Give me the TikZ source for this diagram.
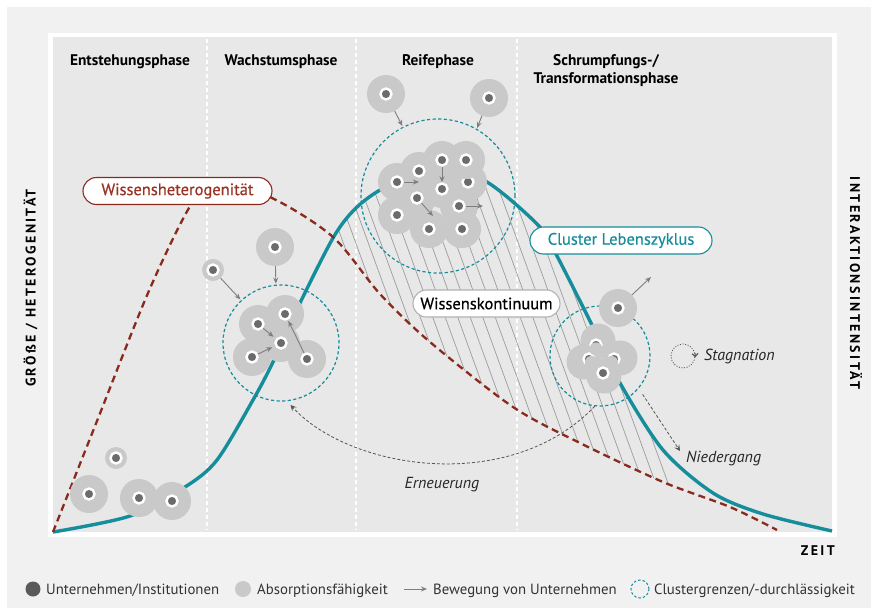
\documentclass[tikz,border=0pt]{standalone}
\usepackage{fontspec}
\setmainfont{PT Sans}
\newfontfamily\spacedfont{PT Sans}[LetterSpace=17]
\newfontfamily\mediumfont{PT Sans}[FakeBold=0.6]
\usetikzlibrary{arrows.meta}

\definecolor{outerbg}{HTML}{F1F1F1}
\definecolor{plotbg}{HTML}{E8E8E8}
\definecolor{lifeteal}{HTML}{168D9B}
\definecolor{hetred}{HTML}{8A2A1D}
\definecolor{hettext}{HTML}{9A3324}
\definecolor{absorb}{HTML}{C9C9C9}
\definecolor{firm}{HTML}{6B6B6B}
\definecolor{legdark}{HTML}{5A5A5A}
\definecolor{movegray}{HTML}{7E7E7E}
\definecolor{trendgray}{HTML}{555555}
\definecolor{hatchgray}{HTML}{9C9C9C}
\definecolor{legtext}{HTML}{333333}

% life-cycle curve and knowledge-heterogeneity curve (pixel-style coordinates, y downwards)
\newcommand\tealpath{plot[smooth] coordinates {(53,532) (130,516) (185,487) (217,460) (253,400) (273,362) (300,303) (333,238) (354,210) (380,190) (433,163) (487,182) (540,227) (557,256) (593,327) (620,383) (663,450) (713,493) (763,514) (832,531)}}
\newcommand\redpath{plot[smooth] coordinates {(53,532) (97,421) (148,293) (189,208) (215,181) (272,198) (333,237) (380,294) (430,342) (513,407) (580,443) (663,482) (730,507) (777,530)}}

\begin{document}
\begin{tikzpicture}[x=1pt, y=-1pt,
  bubble/.style={circle, fill=absorb, inner sep=0pt, minimum size=38pt},
  smallbubble/.style={bubble, minimum size=22pt},
  shrinkbubble/.style={bubble, minimum size=35pt},
  firmdot/.style={circle, fill=firm, draw=white, line width=2.4pt, inner sep=0pt, minimum size=11pt},
  firmmove/.style={draw=movegray, line width=0.9pt, -{Stealth[length=6pt,width=5pt]}},
  clusterring/.style={circle, draw=lifeteal, line width=1.2pt, dash pattern=on 3.2pt off 2.4pt, inner sep=0pt},
  phaseline/.style={white, line width=1.2pt, dash pattern=on 4pt off 3pt},
  hatch/.style={hatchgray, line width=0.7pt},
  tag/.style={rounded corners=13.5pt, fill=white, line width=1.1pt, minimum height=27pt, inner xsep=6pt, font=\mediumfont\fontsize{16.5}{18}\selectfont},
  phasetitle/.style={font=\bfseries\fontsize{15.4}{17.6}\selectfont, anchor=base, align=center, inner sep=0pt},
  axislabel/.style={font=\spacedfont\bfseries\fontsize{14}{16}\selectfont, anchor=base, inner sep=0pt},
  note/.style={font=\itshape\fontsize{16}{18}\selectfont, text=black!85, anchor=base west, inner sep=0pt},
  legendtext/.style={font=\fontsize{14.8}{17}\selectfont, text=legtext, anchor=base west, inner sep=0pt},
  trend/.style={draw=trendgray, line width=0.8pt, dash pattern=on 3pt off 2pt, -{Stealth[length=6pt,width=6pt,inset=2.5pt]}}
]
\useasboundingbox (0,0) rectangle (871,608);
\fill[white] (0,0) rectangle (871,608);
\fill[outerbg] (7,7) rectangle (871,608);
\fill[white] (48,33) rectangle (837,537);
\fill[plotbg] (53,37) rectangle (832,532);

% phase boundaries
\foreach \x in {207,356,517} \draw[phaseline] (\x,39) -- (\x,530);

% hatched knowledge continuum between the two curves
\begin{scope}
  \clip \tealpath -- (832,600) -- (53,600) -- cycle;
  \clip \redpath -- (900,530) -- (900,0) -- (0,0) -- (0,532) -- cycle;
  \foreach \k in {0,...,21} \draw[hatch] ({492.5-12.5*\k},0) -- ++(218,600);
\end{scope}

% curves
\draw[lifeteal, line width=3.4pt] \tealpath;
\draw[hetred, line width=2.3pt, dash pattern=on 7pt off 4.5pt] \redpath;

% curve labels
\node[tag, draw=hetred, text=hettext, minimum width=189pt] (lblhet) at (177.5,191) {Wissensheterogenität};
\node[tag, draw=lifeteal, text=lifeteal, minimum width=182pt] (lblcyc) at (621,240.5) {Cluster Lebenszyklus};
\node[tag, draw=black!30, text=black, minimum width=147pt] (lblkont) at (486.5,303.5) {Wissenskontinuum};

% cluster boundaries
\node[clusterring, minimum size=116pt] (wring) at (281,343) {};
\node[clusterring, minimum size=154pt] (rring) at (438,196) {};
\node[clusterring, minimum size=100pt] (sring) at (600,356) {};

% emergence phase
\node[smallbubble] (e0) at (116,458) {};
\node[firmdot] (e0d) at (e0) {};
\node[bubble] (e1) at (89,494) {};
\node[bubble] (e2) at (139,498) {};
\node[bubble] (e3) at (172,501) {};
\node[firmdot] (e1d) at (e1) {};
\node[firmdot] (e2d) at (e2) {};
\node[firmdot] (e3d) at (e3) {};

% growth phase
\node[smallbubble] (ws) at (213,270) {};
\node[firmdot] (wsd) at (ws) {};
\node[bubble] (wb) at (275,247) {};
\node[firmdot] (wbd) at (wb) {};
\node[bubble] (w1) at (258,324) {};
\node[bubble] (w2) at (285,314) {};
\node[bubble] (w3) at (281,343) {};
\node[bubble] (w4) at (252,357) {};
\node[bubble] (w5) at (307,359) {};
\foreach \n in {w1,w2,w3,w4,w5} \node[firmdot] (\n d) at (\n) {};
\draw[firmmove, shorten >=1pt] (ws) -- (wring);
\draw[firmmove, shorten >=1pt] (wb) -- (wring.95);
\draw[firmmove, shorten >=3pt] (w1d) -- (w3d);
\draw[firmmove, shorten >=3pt] (w4d) -- (w3d);
\draw[firmmove, shorten >=1pt] (w5d) -- (w2d);

% maturity phase
\node[bubble] (ro1) at (386,94) {};
\node[firmdot] (ro1d) at (ro1) {};
\node[bubble] (ro2) at (489,98) {};
\node[firmdot] (ro2d) at (ro2) {};
\node[bubble] (ra) at (397,182) {};
\node[bubble] (rb) at (419,171) {};
\node[bubble] (rc) at (442,160) {};
\node[bubble] (re) at (442,189) {};
\node[bubble] (rf) at (468,182) {};
\node[bubble] (rg) at (417,198) {};
\node[bubble] (rh) at (459,206) {};
\node[bubble] (ri) at (397,215) {};
\node[bubble] (rj) at (429,229) {};
\node[bubble] (rk) at (462,229) {};
\node[firmdot] (rfd) at (rf) {};
\node[bubble] (rd) at (466,160) {};
\foreach \n in {ra,rb,rc,rd,re,rg,rh,ri,rj,rk} \node[firmdot] (\n d) at (\n) {};
\coordinate (ramove) at (419,182);
\coordinate (rgmove) at (433,216);
\coordinate (rhmove) at (483,206);
\draw[firmmove, shorten >=1pt] (ro1) -- (rring.117);
\draw[firmmove, shorten >=1pt] (ro2) -- (rring.60);
\draw[firmmove] (rad) -- (ramove);
\draw[firmmove] (rcd) -- (red);
\draw[firmmove] (rgd) -- (rgmove);
\draw[firmmove] (rhd) -- (rhmove);

% shrinking / transformation phase
\node[shrinkbubble] (sa) at (598,341) {};
\node[shrinkbubble] (sb) at (584,362) {};
\node[shrinkbubble] (sc) at (620,358) {};
\node[shrinkbubble] (sd) at (604,376) {};
\node[firmdot] (sad) at (596,345) {};
\node[firmdot] (sbd) at (589,359) {};
\node[firmdot] (scd) at (614,359) {};
\fill[absorb] (596,349) circle[radius=6.6];
\fill[absorb] (591.5,362.5) circle[radius=6.6];
\fill[absorb] (611.5,362.5) circle[radius=6.6];
\node[firmdot] (sdd) at (603,373) {};
\node[bubble] (so) at (618,308) {};
\node[firmdot] (sod) at (so) {};
\coordinate (somove) at (651,277);
\draw[firmmove] (so) -- (somove);

% stagnation, decline, renewal
\node[circle, draw=trendgray, line width=0.8pt, dash pattern=on 1pt off 1.6pt, minimum size=24pt, inner sep=0pt] (stag) at (683,356) {};
\draw[trendgray, line width=1.1pt, -{Straight Barb[length=3pt,width=6pt]}] (stag.14) -- (stag.-6);
\coordinate (nied) at (680,451);
\draw[trend, shorten <=7pt] (sring.-40) -- (nied);
\draw[trend, shorten >=5pt] (sring.-96) .. controls (510,495) and (350,470) .. (wring.-84);
\node[note] (tstag) at (704,360) {Stagnation};
\node[note] (tnied) at (686,462.7) {Niedergang};
\node[note, anchor=base] (terneu) at (442,488.3) {Erneuerung};

% phase titles
\node[phasetitle] (ph1) at (130,65.7) {Entstehungsphase};
\node[phasetitle] (ph2) at (281,65.7) {Wachstumsphase};
\node[phasetitle] (ph3) at (438,65.7) {Reifephase};
\node[phasetitle, anchor=north] (ph4) at (606,54.5) {Schrumpfungs-/\\Transformationsphase};

% axes
\node[axislabel, rotate=90] (ylab) at (35.7,288) {GRÖßE / HETEROGENITÄT};
\node[axislabel, rotate=-90] (y2lab) at (850,283) {INTERAKTIONSINTENSITÄT};
\node[axislabel, anchor=base east] (xlab) at (835,555.7) {ZEIT};

% legend
\node[circle, fill=legdark, minimum size=15pt, inner sep=0pt] (lgfirm) at (33,589) {};
\node[legendtext] (ltfirm) at (46,594) {Unternehmen/Institutionen};
\node[circle, fill=absorb, minimum size=16pt, inner sep=0pt] (lgabs) at (243,589) {};
\node[legendtext] (ltabs) at (257,594) {Absorptionsfähigkeit};
\coordinate (lgm1) at (404,589);
\coordinate (lgm2) at (427,589);
\draw[firmmove] (lgm1) -- (lgm2);
\node[legendtext] (ltmove) at (433,594) {Bewegung von Unternehmen};
\node[circle, draw=lifeteal, line width=1pt, dash pattern=on 2.5pt off 2pt, minimum size=18pt, inner sep=0pt] (lgring) at (640,589) {};
\node[legendtext] (ltring) at (654,594) {Clustergrenzen/-durchlässigkeit};
\end{tikzpicture}
\end{document}
